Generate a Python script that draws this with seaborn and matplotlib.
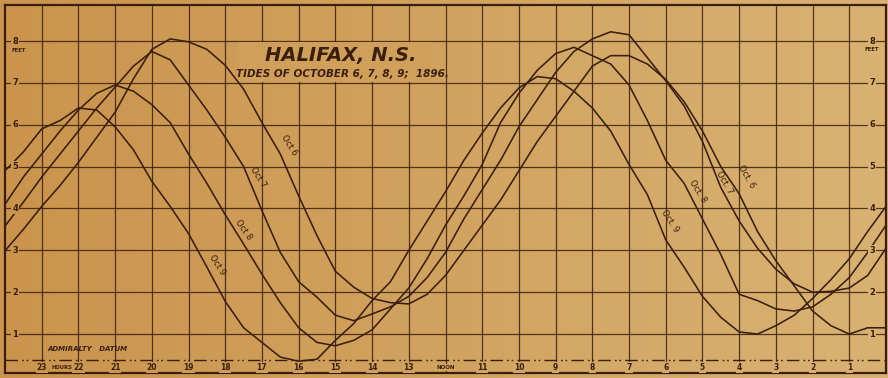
import matplotlib
matplotlib.use("Agg")
import matplotlib.pyplot as plt
import matplotlib.patches as mpatches
import numpy as np
import pandas as pd
import seaborn as sns

# tide heights (feet) read every half hour, 24h at left down to 0h at right
hours = [24.0, 23.5, 23.0, 22.5, 22.0, 21.5, 21.0, 20.5, 20.0, 19.5,
         19.0, 18.5, 18.0, 17.5, 17.0, 16.5, 16.0, 15.5, 15.0, 14.5,
         14.0, 13.5, 13.0, 12.5, 12.0, 11.5, 11.0, 10.5, 10.0, 9.5,
         9.0, 8.5, 8.0, 7.5, 7.0, 6.5, 6.0, 5.5, 5.0, 4.5,
         4.0, 3.5, 3.0, 2.5, 2.0, 1.5, 1.0, 0.5, 0.0]

oct6 = [2.99, 3.5, 4.05, 4.55, 5.1, 5.7, 6.3, 7.1, 7.8, 8.05,
        7.98, 7.8, 7.42, 6.85, 6.05, 5.3, 4.3, 3.35, 2.5, 2.12,
        1.85, 1.75, 1.72, 1.95, 2.4, 3.0, 3.6, 4.2, 4.9, 5.6,
        6.2, 6.8, 7.4, 7.65, 7.65, 7.45, 7.08, 6.55, 5.85, 5.0,
        4.35, 3.45, 2.75, 2.15, 1.55, 1.2, 1.0, 1.15, 1.15]

oct7 = [3.58, 4.15, 4.75, 5.3, 5.85, 6.4, 6.9, 7.4, 7.75, 7.55,
        6.95, 6.35, 5.7, 5.0, 3.95, 2.95, 2.25, 1.88, 1.45, 1.32,
        1.48, 1.65, 1.9, 2.35, 2.95, 3.75, 4.45, 5.15, 5.95, 6.6,
        7.25, 7.75, 8.05, 8.22, 8.15, 7.6, 7.05, 6.45, 5.6, 4.5,
        3.7, 3.05, 2.55, 2.2, 2.0, 2.02, 2.1, 2.4, 3.05]

oct8 = [4.1, 4.75, 5.3, 5.85, 6.35, 6.75, 6.95, 6.8, 6.48, 6.05,
        5.3, 4.6, 3.85, 3.15, 2.43, 1.75, 1.15, 0.8, 0.72, 0.85,
        1.1, 1.6, 2.1, 2.8, 3.6, 4.3, 5.05, 6.05, 6.75, 7.3,
        7.7, 7.85, 7.65, 7.45, 6.95, 6.1, 5.15, 4.6, 3.75, 2.9,
        1.95, 1.8, 1.6, 1.55, 1.65, 1.95, 2.35, 2.95, 3.6]

oct9 = [4.9, 5.35, 5.9, 6.1, 6.4, 6.35, 5.95, 5.4, 4.65, 4.05,
        3.4, 2.6, 1.78, 1.15, 0.8, 0.45, 0.35, 0.4, 0.85, 1.25,
        1.8, 2.25, 3.0, 3.7, 4.4, 5.15, 5.8, 6.4, 6.88, 7.15,
        7.1, 6.8, 6.4, 5.85, 5.05, 4.33, 3.25, 2.6, 1.9, 1.4,
        1.05, 1.0, 1.2, 1.45, 1.85, 2.3, 2.8, 3.45, 4.05]

hour_ticks = [23, 22, 21, 20, 19, 18, 17, 16, 15, 14, 13, 12,
              11, 10, 9, 8, 7, 6, 5, 4, 3, 2, 1]
hour_labels = ['23', '22', '21', '20', '19', '18', '17', '16', '15', '14',
               '13', 'NOON', '11', '10', '9', '8', '7', '6', '5', '4',
               '3', '2', '1']
feet_ticks = [1, 2, 3, 4, 5, 6, 7, 8]
datum = 0.38

# curve labels: text, hour, feet, rotation
curve_labels = [
    ('Oct 6', 16.25, 5.5, -58),
    ('Oct 7', 17.1, 4.75, -58),
    ('Oct 8', 17.5, 3.5, -55),
    ('Oct 9', 18.22, 2.65, -57),
    ('Oct. 9', 5.9, 3.7, -57),
    ('Oct. 8', 5.12, 4.4, -58),
    ('Oct. 7', 4.4, 4.62, -60),
    ('Oct. 6', 3.8, 4.75, -60),
]

INK = '#3A1F0E'
LEFT_RGB = np.array([202, 148, 76]) / 255
RIGHT_RGB = np.array([217, 178, 114]) / 255


def paper(h):
    # paper tint at a given hour (darker on the left of the sheet)
    t = (24 - h) / 24
    return tuple(LEFT_RGB * (1 - t) + RIGHT_RGB * t)


sns.set_style('white')
plt.rcParams['font.family'] = ['DejaVu Sans']

df = pd.DataFrame({
    'hour': hours * 4,
    'feet': oct6 + oct7 + oct8 + oct9,
    'day': ['Oct 6'] * len(hours) + ['Oct 7'] * len(hours)
           + ['Oct 8'] * len(hours) + ['Oct 9'] * len(hours),
})

fig = plt.figure(figsize=(8.88, 3.78), dpi=100, facecolor=paper(12))

# paper background
bg = fig.add_axes([0, 0, 1, 1], zorder=0)
ramp = np.linspace(0, 1, 256)[None, :, None]
sheet = LEFT_RGB[None, None, :] * (1 - ramp) + RIGHT_RGB[None, None, :] * ramp
bg.imshow(sheet, aspect='auto', extent=(0, 1, 0, 1))
bg.set_axis_off()

ax = fig.add_axes([5 / 888, 5 / 378, 881 / 888, 368 / 378], zorder=1)
ax.set_facecolor('none')

sns.lineplot(data=df, x='hour', y='feet', hue='day', units='day',
             estimator=None, palette=[INK] * 4, legend=False,
             linewidth=1.15, ax=ax, zorder=3)

ax.set_xlim(24, 0)
ax.set_ylim(0.07, 8.86)
ax.set_xticks(hour_ticks)
ax.set_yticks(feet_ticks)
ax.grid(True, color=INK, linewidth=0.9, alpha=0.85)
ax.tick_params(length=0, labelbottom=False, labelleft=False)
ax.set_xlabel('')
ax.set_ylabel('')
for s in ax.spines.values():
    s.set_color(INK)
    s.set_linewidth(1.6)

# plate behind the title
ax.add_patch(mpatches.Rectangle((12.38, 7.03), 5.25, 0.94,
                                facecolor=paper(15), edgecolor='none',
                                zorder=1))
ax.text(14.85, 7.66, 'HALIFAX, N.S.', ha='center', va='center',
        fontsize=14, style='italic', fontweight='bold', color=INK, zorder=4)
ax.text(14.8, 7.2, 'TIDES OF OCTOBER 6, 7, 8, 9;  1896.', ha='center',
        va='center', fontsize=7.5, style='italic', fontweight='bold',
        color=INK, zorder=4)

# admiralty datum
ax.axhline(datum, color=INK, linewidth=1.0,
           linestyle=(0, (9, 3, 1.2, 2, 1.2, 3)), zorder=2)
ax.text(21.75, 0.64, 'ADMIRALTY   DATUM', ha='center', va='center',
        fontsize=5, style='italic', fontweight='bold', color=INK)


def box(h):
    return dict(boxstyle='square,pad=0.12', facecolor=paper(h),
                edgecolor='none')


for h, lab in zip(hour_ticks, hour_labels):
    ax.text(h, 0.2, lab, ha='center', va='center',
            fontsize=4 if lab == 'NOON' else 5.5, fontweight='bold',
            color=INK, bbox=box(h), zorder=4)
ax.text(22.45, 0.2, 'HOURS', ha='center', va='center', fontsize=3.8,
        fontweight='bold', color=INK, bbox=box(22.45), zorder=4)

for f in feet_ticks:
    ax.text(23.72, f, str(f), ha='center', va='center', fontsize=6,
            fontweight='bold', color=INK, bbox=box(23.72), zorder=4)
    ax.text(0.38, f, str(f), ha='center', va='center', fontsize=6,
            fontweight='bold', color=INK, bbox=box(0.38), zorder=4)
ax.text(23.62, 7.77, 'FEET', ha='center', va='center', fontsize=3.8,
        fontweight='bold', color=INK)
ax.text(0.38, 7.8, 'FEET', ha='center', va='center', fontsize=3.8,
        fontweight='bold', color=INK)

for txt, h, f, rot in curve_labels:
    ax.text(h, f, txt, ha='center', va='center', fontsize=6,
            rotation=rot, color=INK, zorder=4)

fig.savefig('out.png', dpi=100)
